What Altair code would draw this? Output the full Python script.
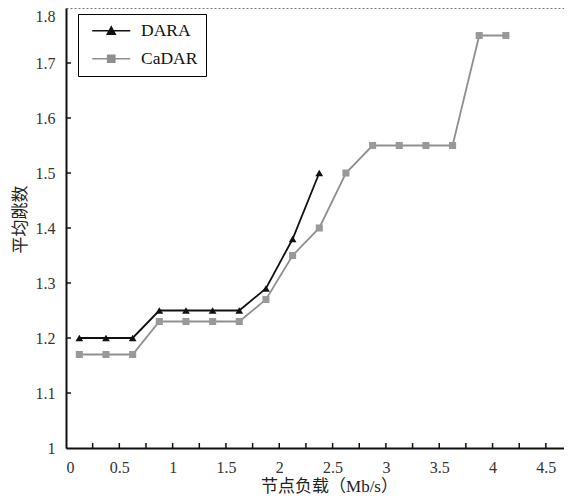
import altair as alt
import pandas as pd

# ---- data ----
series = ["DARA", "CaDAR"]
colors = ["#111111", "#8f8f8f"]
shapes = ["triangle-up", "square"]
# legend glyphs: a short line with the marker on it
legend_glyphs = [
    "M-4.75,0H4.75M-1,0.9L0,-0.95L1,0.9Z",
    "M-4.75,0H4.75M-0.9,-0.9H0.9V0.9H-0.9Z",
]

dara_x = [0.125, 0.375, 0.625, 0.875, 1.125, 1.375, 1.625, 1.875, 2.125, 2.375]
dara_y = [1.20, 1.20, 1.20, 1.25, 1.25, 1.25, 1.25, 1.29, 1.38, 1.50]

cadar_x = [0.125, 0.375, 0.625, 0.875, 1.125, 1.375, 1.625, 1.875, 2.125,
           2.375, 2.625, 2.875, 3.125, 3.375, 3.625, 3.875, 4.125]
cadar_y = [1.17, 1.17, 1.17, 1.23, 1.23, 1.23, 1.23, 1.27, 1.35,
           1.40, 1.50, 1.55, 1.55, 1.55, 1.55, 1.75, 1.75]

x_ticks = [0, 0.25, 0.5, 0.75, 1, 1.25, 1.5, 1.75, 2, 2.25, 2.5, 2.75,
           3, 3.25, 3.5, 3.75, 4, 4.25, 4.5]
y_ticks = [1.0, 1.1, 1.2, 1.3, 1.4, 1.5, 1.6, 1.7, 1.8]

x_title = "节点负载（Mb/s）"
y_title = "平均跳数"

x_min, x_max = 0, 4.67
y_min, y_max = 1.0, 1.8

dara = pd.DataFrame({"x": dara_x, "y": dara_y, "s": "DARA"})
cadar = pd.DataFrame({"x": cadar_x, "y": cadar_y, "s": "CaDAR"})
both = pd.concat([cadar, dara], ignore_index=True)
xt = pd.DataFrame({"x": x_ticks[1:]})
yt = pd.DataFrame({"y": y_ticks[1:-1]})

FONT = "Liberation Serif"
TFONT = "'Liberation Serif', 'Noto Sans CJK SC', serif"

xscale = alt.Scale(domain=[x_min, x_max], nice=False, zero=False)
yscale = alt.Scale(domain=[y_min, y_max], nice=False, zero=False)

axis_style = dict(
    grid=False,
    ticks=False,
    tickSize=0,
    labelPadding=11,
    domainColor="#111111",
    domainWidth=2,
    labelFont=FONT,
    labelFontSize=16,
    labelColor="#333333",
    titleFont=TFONT,
    titleFontSize=17,
    titleFontWeight="normal",
    titleColor="#222222",
    titleBaseline="middle",
)

xaxis = alt.Axis(
    values=x_ticks,
    labelExpr="datum.value % 0.5 == 0 ? format(datum.value, '~g') : ''",
    title=x_title,
    titleX=263,
    titleY=38,
    **axis_style,
)
yaxis = alt.Axis(
    values=y_ticks,
    format="~g",
    title=y_title,
    labelBaseline={"condition": {"test": "datum.value >= 1.79", "value": "top"}, "value": "middle"},
    titleX=-46,
    titleY=211,
    **axis_style,
)

X = alt.X("x:Q", scale=xscale, axis=xaxis)
Y = alt.Y("y:Q", scale=yscale, axis=yaxis)

legend = alt.Legend(
    title=None,
    orient="none",
    legendX=12,
    legendY=6,
    padding=8,
    fillColor="white",
    strokeColor="black",
    labelFont=FONT,
    labelFontSize=17.5,
    labelColor="#111",
    symbolSize=64,
    symbolOffset=16.5,
    labelOffset=21,
    rowPadding=9,
    symbolStrokeWidth=1.5,
)

cadar_line = alt.Chart(cadar).mark_line(color=colors[1], strokeWidth=1.8).encode(x=X, y=Y)
dara_line = alt.Chart(dara).mark_line(color=colors[0], strokeWidth=1.8).encode(x=X, y=Y)
cadar_pts = alt.Chart(cadar).mark_point(
    shape=shapes[1], filled=True, color="#999999", size=50, opacity=1
).encode(x=X, y=Y)
dara_pts = alt.Chart(dara).mark_point(
    shape=shapes[0], filled=True, color=colors[0], size=60, opacity=1
).encode(x=X, y=Y)

# legend only (no marks drawn): fill, stroke and glyph per series
legend_layer = (
    alt.Chart(both)
    .transform_filter("false")
    .mark_point(filled=True, opacity=1, strokeWidth=1.5)
    .encode(
        x=X,
        y=Y,
        fill=alt.Fill("s:N", scale=alt.Scale(domain=series, range=colors), legend=legend),
        stroke=alt.Stroke("s:N", scale=alt.Scale(domain=series, range=colors), legend=legend),
        shape=alt.Shape("s:N", scale=alt.Scale(domain=series, range=legend_glyphs), legend=legend),
    )
)

# inward tick marks on the left and bottom axes
xticks = alt.Chart(xt).mark_rule(color="#111", strokeWidth=1.5, y2Offset=-5).encode(
    x=X,
    y=alt.datum(y_min, scale=yscale, axis=yaxis),
    y2=alt.datum(y_min),
)
yticks = alt.Chart(yt).mark_rule(color="#111", strokeWidth=1.5, x2Offset=5).encode(
    y=Y,
    x=alt.datum(x_min, scale=xscale, axis=xaxis),
    x2=alt.datum(x_min),
)

chart = (
    alt.layer(legend_layer, cadar_line, dara_line, cadar_pts, dara_pts, xticks, yticks)
    .properties(
        width=498,
        height=440,
        autosize=alt.AutoSizeParams(type="none"),
        padding={"left": 58, "top": 0, "right": 0, "bottom": 50},
        background="white",
    )
    .configure_view(stroke="#777777", strokeWidth=1, strokeDash=[2, 2])
)

chart.save("out.html", embed_options={"renderer": "svg", "actions": False})
